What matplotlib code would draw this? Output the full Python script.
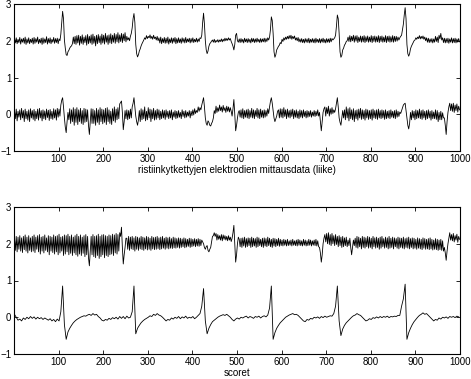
import numpy as np
import matplotlib
matplotlib.use("Agg")
import matplotlib.pyplot as plt

# ---- data: main samples at indices 1, 5, 9, ..., 997; "mid" samples at 3, 7, 11, ..., 999 ----
step = 4
mixed_upper = [
    2.06,2.08,2.04,2.09,2.05,2.07,2.10,2.05,2.08,2.04,2.07,2.09,2.06,2.10,2.04,2.07,2.08,2.05,2.11,2.06,2.08,2.04,2.09,2.06,2.07,2.05,
    2.18,2.80,2.02,1.62,1.70,1.80,1.86,
    2.10,2.12,2.14,2.15,2.12,2.16,2.10,2.14,2.17,2.12,2.16,2.18,2.12,2.15,2.17,2.13,2.18,2.15,2.20,2.14,2.16,2.19,2.15,2.20,2.17,2.22,2.16,2.20,2.18,2.22,2.12,
    2.08,2.12,2.35,2.74,1.90,1.56,1.72,
    1.86,1.97,2.08,2.14,2.12,2.16,2.12,2.15,2.10,2.12,
    2.08,2.10,2.06,2.09,2.07,2.10,2.05,2.08,2.07,2.09,2.06,2.08,2.05,2.08,2.06,2.09,2.05,2.07,2.06,2.08,2.04,2.07,2.05,2.08,
    2.15,2.75,2.00,1.65,1.85,1.95,
    2.02,2.04,2.01,2.03,2.02,2.05,2.04,2.07,2.06,2.08,2.06,
    1.92,1.75,2.15,2.00,
    2.05,2.06,2.04,2.07,2.05,2.06,2.04,2.07,2.06,2.05,2.07,2.04,2.06,2.05,2.07,2.06,2.08,
    2.10,2.65,2.20,1.55,1.75,1.85,
    1.95,2.04,2.08,2.10,2.12,2.14,2.15,2.12,2.13,2.08,2.09,2.05,2.06,2.04,2.06,2.05,2.07,2.04,2.06,2.05,2.07,2.04,2.06,2.05,2.07,2.04,2.06,2.05,2.07,2.06,
    2.05,2.15,2.70,2.20,1.55,1.75,
    1.88,1.98,2.10,2.14,2.12,2.15,2.13,2.14,2.10,2.13,2.12,2.14,2.11,2.13,2.10,2.14,2.12,2.13,2.11,2.14,2.12,2.13,2.10,2.14,2.12,2.13,2.11,2.14,2.12,2.12,2.10,
    2.08,2.15,2.45,2.90,1.90,1.58,
    1.78,1.90,2.00,2.08,2.10,2.14,2.12,2.13,2.10,2.08,2.07,2.05,2.06,2.05,2.12,2.10,2.15,2.20,2.08,2.07,2.06,2.07,2.05,2.08,2.06,2.07,2.05,2.06,
]
mixed_upper_mid = [
    1.94,1.92,1.95,1.91,1.96,1.93,1.90,1.94,1.92,1.95,1.91,1.93,1.96,1.92,1.94,1.90,1.93,1.95,1.91,1.94,1.92,1.96,1.93,1.95,1.92,2.00,
    2.50,2.60,1.80,1.60,1.74,1.84,1.92,
    1.92,1.90,1.94,1.88,1.93,1.90,1.95,1.88,1.92,1.94,1.90,1.93,1.86,1.92,1.95,1.90,1.94,1.91,1.96,1.90,1.94,1.92,1.96,1.93,1.97,1.94,1.98,1.95,2.00,1.97,2.02,
    2.00,2.20,2.60,2.50,1.65,1.62,1.78,
    1.92,2.02,2.04,2.06,2.08,2.06,2.04,2.06,2.02,2.00,
    1.94,1.92,1.95,1.93,1.94,1.91,1.95,1.93,1.96,1.92,1.94,1.95,1.93,1.96,1.94,1.95,1.97,1.94,1.96,1.95,1.97,1.96,1.98,2.06,
    2.50,2.45,1.75,1.72,1.92,1.99,
    1.96,1.95,1.97,1.96,1.98,1.97,1.99,2.00,2.01,2.02,1.98,
    1.85,1.90,2.20,1.96,
    1.95,1.96,1.94,1.97,1.95,1.96,1.94,1.97,1.95,1.96,1.97,1.95,1.96,1.97,1.96,1.98,2.02,
    2.30,2.55,1.70,1.62,1.80,1.88,
    1.92,1.98,2.02,2.04,2.05,2.06,2.04,2.06,2.02,2.00,1.97,1.96,1.95,1.94,1.96,1.95,1.94,1.96,1.95,1.94,1.96,1.95,1.94,1.96,1.95,1.94,1.96,1.95,1.97,2.02,
    2.08,2.40,2.60,1.70,1.60,1.80,
    1.92,2.00,1.98,1.97,2.00,1.96,1.99,1.95,1.98,1.96,1.97,1.95,1.98,1.96,1.97,1.95,1.98,1.96,1.97,1.95,1.98,1.96,1.97,1.95,1.98,1.96,1.97,1.96,1.98,1.99,2.02,
    2.12,2.30,2.70,2.60,1.65,1.65,
    1.85,1.95,2.02,2.04,2.06,2.05,2.06,2.04,2.00,1.96,1.95,1.96,1.94,1.96,1.98,1.95,2.05,2.02,1.95,1.94,1.95,1.93,1.96,1.94,1.95,1.94,1.96,1.97,
]
mixed_lower = [
    0.10,0.14,0.08,0.12,0.16,0.10,0.14,0.08,0.12,0.15,0.10,0.13,0.08,0.14,0.16,0.10,0.12,0.09,0.14,0.11,0.13,0.08,0.15,0.12,0.16,0.14,
    0.25,0.45,-0.10,-0.50,
    0.05,0.15,0.12,0.18,0.14,0.18,0.12,0.16,0.10,0.16,0.14,
    0.12,-0.55,0.15,
    0.14,0.10,0.16,0.12,0.18,0.14,0.12,0.16,0.18,0.12,0.08,0.15,0.20,0.14,0.18,
    0.28,0.36,-0.42,0.10,
    0.12,0.10,0.14,0.20,
    0.45,-0.05,-0.30,
    0.10,0.15,0.12,0.20,0.08,0.18,0.14,0.12,0.16,0.10,0.14,0.12,0.08,0.12,0.10,0.12,0.08,0.10,0.12,0.06,0.10,0.08,0.10,0.05,0.12,0.08,0.10,0.06,0.10,0.08,0.12,0.15,0.10,0.20,0.18,
    0.25,0.45,-0.10,-0.30,-0.22,-0.32,-0.20,
    0.10,0.22,0.18,0.25,0.20,0.24,0.18,0.22,0.20,0.18,
    -0.05,0.40,-0.45,-0.10,
    0.10,0.12,0.15,0.10,0.12,0.14,0.10,0.16,0.12,0.10,0.16,0.12,0.14,0.10,0.12,0.10,0.15,
    0.20,0.45,0.10,-0.20,-0.05,
    0.12,0.15,0.14,0.18,0.12,0.14,0.10,0.12,0.14,0.10,0.12,0.08,0.12,0.10,0.12,0.08,0.10,0.08,0.10,0.06,0.10,0.08,0.12,0.05,
    -0.45,0.05,
    0.20,0.18,0.22,0.15,0.18,0.12,
    0.15,0.45,-0.10,-0.30,0.10,
    0.12,0.20,0.15,0.18,0.12,0.15,0.10,0.12,0.14,0.16,0.12,0.10,0.14,0.12,0.10,0.12,0.14,0.10,0.12,0.14,0.10,0.12,0.10,0.12,0.08,0.10,0.12,0.08,0.10,0.12,0.08,0.06,
    0.10,0.25,0.30,-0.10,-0.40,
    0.05,0.10,0.08,0.12,0.10,0.14,0.10,0.12,0.08,0.10,0.12,0.08,0.10,0.06,0.12,0.10,0.05,0.08,0.04,
    -0.10,-0.55,0.05,
    0.30,0.28,0.30,0.25,0.28,0.22,
]
mixed_lower_mid = [
    -0.12,-0.18,-0.08,-0.15,-0.10,-0.20,-0.12,-0.16,-0.20,-0.10,-0.14,-0.18,-0.12,-0.16,-0.10,-0.18,-0.12,-0.15,-0.09,-0.17,-0.12,-0.14,-0.10,-0.16,-0.08,-0.05,
    0.38,0.20,-0.35,-0.20,
    -0.15,-0.25,-0.20,-0.30,-0.22,-0.28,-0.20,-0.25,-0.28,-0.22,-0.20,
    -0.30,-0.20,-0.25,
    -0.25,-0.30,-0.22,-0.28,-0.20,-0.26,-0.22,-0.28,-0.20,-0.25,-0.28,-0.18,-0.22,-0.15,-0.12,
    0.32,0.05,-0.20,-0.12,
    -0.15,-0.12,-0.10,0.30,
    0.20,-0.20,-0.15,
    -0.20,-0.15,-0.12,-0.18,-0.15,-0.10,-0.20,-0.12,-0.16,-0.14,-0.10,-0.15,-0.12,-0.10,-0.14,-0.08,-0.12,-0.10,-0.15,-0.08,-0.12,-0.10,-0.08,-0.12,-0.06,-0.10,-0.08,-0.05,-0.10,-0.04,-0.02,0.02,0.05,0.08,0.12,
    0.35,0.20,-0.25,-0.18,-0.30,-0.25,-0.10,
    0.02,0.05,0.08,0.10,0.06,0.10,0.05,0.08,0.06,0.08,
    0.15,0.00,-0.30,0.05,
    -0.08,-0.10,-0.12,-0.08,-0.10,-0.12,-0.08,-0.10,-0.12,-0.06,-0.10,-0.12,-0.08,-0.10,-0.08,-0.05,0.02,
    0.35,0.30,-0.10,-0.12,0.08,
    -0.10,-0.08,-0.10,-0.06,-0.12,-0.08,-0.10,-0.06,-0.12,-0.08,-0.10,-0.12,-0.08,-0.10,-0.06,-0.10,-0.08,-0.06,-0.08,-0.05,-0.06,-0.04,-0.05,-0.20,
    -0.20,0.15,
    -0.05,0.02,-0.05,0.00,0.02,0.05,
    0.30,0.20,-0.22,-0.10,-0.10,
    -0.15,-0.10,-0.18,-0.12,-0.15,-0.20,-0.12,-0.16,-0.10,-0.14,-0.12,-0.16,-0.10,-0.14,-0.12,-0.16,-0.10,-0.12,-0.14,-0.10,-0.12,-0.10,-0.14,-0.12,-0.10,-0.12,-0.08,-0.10,-0.12,-0.08,-0.06,0.02,
    0.18,0.28,0.10,-0.30,-0.25,
    -0.15,-0.10,-0.15,-0.12,-0.10,-0.12,-0.14,-0.10,-0.15,-0.12,-0.10,-0.16,-0.12,-0.12,-0.14,-0.20,-0.15,-0.15,-0.10,
    -0.30,-0.20,0.20,
    0.10,0.08,0.05,0.10,0.06,0.12,
]
score_upper = [
    2.15,2.20,2.18,2.22,2.16,2.20,2.24,2.18,2.22,2.16,2.20,2.24,2.18,2.22,2.25,2.18,2.20,2.24,2.16,2.22,2.20,2.18,2.24,2.20,2.22,2.26,2.18,2.20,2.24,2.22,2.26,2.20,2.24,2.18,2.22,2.26,2.20,2.24,2.18,2.22,2.25,2.20,
    1.40,2.20,
    2.25,2.20,2.22,2.26,2.20,2.24,2.25,2.22,2.20,2.24,2.22,2.26,2.24,2.28,2.25,
    2.30,2.45,1.45,1.90,
    2.15,2.20,2.18,2.20,2.16,2.20,2.18,2.16,2.20,2.18,2.16,2.20,2.18,2.15,2.20,2.17,2.18,2.20,2.16,2.18,2.20,2.15,2.18,2.16,2.18,2.14,2.18,2.16,2.14,2.16,2.15,2.13,2.16,2.14,2.12,2.15,2.14,2.12,2.14,2.12,2.14,2.12,2.10,
    2.00,1.85,1.95,1.78,1.90,2.20,2.30,
    2.28,2.25,2.22,2.25,2.24,2.22,2.20,2.22,2.18,
    2.15,2.50,1.50,2.00,
    2.12,2.15,2.16,2.18,2.14,2.16,2.15,2.18,2.15,2.14,2.18,2.16,2.12,2.15,2.16,2.14,2.18,2.15,2.12,2.15,2.14,2.12,2.15,2.12,2.10,2.12,2.10,2.12,2.08,2.10,2.12,2.08,2.10,2.12,2.10,2.08,2.12,2.10,2.08,2.12,2.10,2.08,2.10,2.12,2.08,
    1.90,1.50,2.00,
    2.25,2.28,2.30,2.25,2.28,2.22,2.25,2.20,2.22,2.18,2.20,2.16,2.18,
    2.10,2.15,1.70,2.10,
    2.15,2.20,2.18,2.15,2.20,2.18,2.16,2.20,2.18,2.15,2.20,2.16,2.18,2.15,2.18,2.20,2.14,2.18,2.16,2.20,2.15,2.18,2.16,2.14,2.18,2.16,2.15,2.18,2.14,2.16,2.18,2.14,2.16,2.15,2.12,2.16,2.14,2.12,2.16,2.14,2.12,2.14,2.16,2.12,2.10,2.14,2.12,2.10,2.12,2.08,
    1.90,1.55,2.00,2.30,2.25,2.28,2.22,2.26,2.20,
]
score_upper_mid = [
    1.82,1.78,1.85,1.80,1.76,1.84,1.80,1.75,1.82,1.78,1.80,1.76,1.85,1.78,1.72,1.80,1.75,1.82,1.78,1.70,1.80,1.76,1.72,1.78,1.70,1.75,1.80,1.68,1.72,1.78,1.70,1.74,1.68,1.75,1.70,1.66,1.72,1.68,1.74,1.65,1.70,1.62,
    1.80,1.70,
    1.65,1.62,1.68,1.60,1.65,1.70,1.62,1.68,1.65,1.70,1.72,1.68,1.75,1.72,1.80,
    2.20,1.90,1.70,2.15,
    1.85,1.82,1.86,1.84,1.80,1.85,1.82,1.86,1.84,1.82,1.86,1.83,1.85,1.82,1.86,1.84,1.85,1.87,1.84,1.86,1.88,1.85,1.88,1.86,1.88,1.87,1.89,1.88,1.90,1.88,1.90,1.92,1.89,1.91,1.93,1.90,1.92,1.94,1.92,1.94,1.93,1.95,2.05,
    1.90,1.92,1.82,1.85,2.05,2.22,2.20,
    2.10,2.12,2.10,2.08,2.12,2.10,2.08,2.10,2.06,
    2.30,2.00,1.70,2.18,
    1.92,1.90,1.94,1.90,1.92,1.95,1.90,1.92,1.94,1.90,1.92,1.95,1.92,1.90,1.94,1.92,1.95,1.92,1.90,1.94,1.92,1.95,1.93,1.95,1.94,1.96,1.94,1.95,1.96,1.94,1.96,1.95,1.94,1.96,1.95,1.94,1.96,1.94,1.95,1.96,1.94,1.96,1.95,1.94,1.92,
    1.75,1.70,2.15,
    2.05,2.00,1.98,1.95,2.00,1.95,1.98,1.92,1.95,1.90,1.92,1.95,1.92,
    1.95,1.90,1.90,1.95,
    1.90,1.88,1.92,1.86,1.90,1.88,1.92,1.88,1.90,1.86,1.92,1.88,1.90,1.85,1.88,1.92,1.88,1.90,1.86,1.88,1.90,1.86,1.92,1.88,1.86,1.90,1.88,1.86,1.90,1.88,1.86,1.90,1.86,1.88,1.85,1.88,1.86,1.84,1.88,1.85,1.86,1.84,1.86,1.83,1.85,1.84,1.82,1.84,1.82,1.80,
    1.75,1.80,2.15,2.10,2.08,2.05,2.10,2.04,2.12,
]
score_lower = [
    0.08,0.00,-0.08,-0.05,-0.10,-0.02,-0.06,0.00,-0.04,0.02,-0.03,0.01,-0.05,0.00,-0.04,-0.01,-0.06,-0.02,-0.05,-0.08,-0.04,-0.10,-0.06,-0.12,-0.05,-0.10,
    0.15,0.85,-0.20,-0.60,-0.40,
    -0.30,-0.22,-0.15,-0.10,-0.06,-0.03,0.00,0.02,0.04,0.03,0.06,0.08,0.05,0.10,0.06,0.08,0.02,-0.02,-0.08,-0.10,-0.06,-0.08,-0.03,-0.06,-0.01,-0.04,0.00,-0.05,0.02,-0.03,
    0.02,-0.04,0.03,-0.02,0.00,0.15,
    0.85,-0.45,-0.30,-0.22,-0.15,
    -0.10,-0.06,-0.03,0.00,0.04,0.02,0.08,0.05,0.10,0.06,0.04,0.00,-0.05,-0.10,-0.06,-0.08,-0.02,-0.05,0.00,-0.03,0.02,-0.04,0.01,-0.02,0.03,-0.03,0.00,-0.02,0.02,-0.04,0.00,0.05,0.10,
    0.30,0.78,-0.10,-0.45,-0.30,-0.20,
    -0.12,-0.08,-0.04,0.00,0.03,0.05,0.07,0.05,0.08,0.04,0.00,-0.06,-0.10,-0.05,-0.02,-0.05,0.00,-0.02,0.01,0.03,-0.02,0.02,0.00,-0.03,0.02,0.00,0.03,-0.02,0.02,0.04,0.01,0.06,
    0.25,0.85,-0.60,-0.42,-0.30,-0.22,
    -0.15,-0.10,-0.05,0.00,0.03,0.06,0.08,0.10,0.07,0.08,0.05,0.00,-0.05,-0.10,-0.12,-0.06,-0.08,-0.03,-0.05,0.00,-0.02,0.01,-0.03,0.02,-0.01,0.03,0.00,0.02,0.04,0.03,0.10,
    0.30,0.85,-0.10,-0.50,-0.32,-0.22,
    -0.15,-0.10,-0.05,0.00,0.04,0.06,0.10,0.07,0.05,0.00,-0.05,-0.10,-0.08,-0.04,-0.06,-0.01,-0.03,0.01,-0.02,0.02,-0.01,0.02,0.00,0.03,-0.01,0.02,0.01,0.03,0.02,0.05,
    0.05,0.30,0.50,0.90,-0.60,-0.42,
    -0.30,-0.20,-0.12,-0.06,0.00,0.05,0.08,0.12,0.08,0.10,0.05,0.00,-0.05,-0.10,-0.06,-0.08,-0.02,-0.05,0.00,-0.02,0.01,-0.03,0.02,0.00,0.02,-0.01,0.03,0.01,
]

xticks = [100, 200, 300, 400, 500, 600, 700, 800, 900, 1000]
yticks = [-1, 0, 1, 2, 3]
ytick_labels = ['\u22121', '0', '1', '2', '3']
xlabel_top = "ristiinkytkettyjen elektrodien mittausdata (liike)"
xlabel_bottom = "scoret"

for name, s in [("mu", mixed_upper), ("mum", mixed_upper_mid), ("ml", mixed_lower),
                ("mlm", mixed_lower_mid), ("su", score_upper), ("sum", score_upper_mid),
                ("sl", score_lower)]:
    assert len(s) == 250, (name, len(s))


def interleave(main, mid):
    x_main = 1 + step * np.arange(len(main))
    if mid is None:
        return x_main, np.asarray(main)
    x_mid = x_main + step // 2
    x = np.empty(2 * len(main))
    y = np.empty(2 * len(main))
    x[0::2], x[1::2] = x_main, x_mid
    y[0::2], y[1::2] = main, mid
    return x, y


plt.rcParams['font.family'] = ['Liberation Sans', 'DejaVu Sans']
fig = plt.figure(figsize=(4.71, 3.79), dpi=100)
W, H = 471, 379


def make_ax(top_px, bottom_px):
    return fig.add_axes([14 / W, 1 - bottom_px / H, 446 / W, (bottom_px - top_px) / H])


ax1 = make_ax(4, 151)
ax2 = make_ax(207, 354)

panels = [
    (ax1, [(mixed_upper, mixed_upper_mid), (mixed_lower, mixed_lower_mid)], xlabel_top),
    (ax2, [(score_upper, score_upper_mid), (score_lower, None)], xlabel_bottom),
]
for ax, series, lab in panels:
    for main, mid in series:
        x, y = interleave(main, mid)
        ax.plot(x, y, color='black', lw=0.6)
    ax.set_xlim(0, 1000)
    ax.set_ylim(-1, 3)
    ax.set_xticks(xticks)
    ax.set_yticks(yticks)
    ax.set_yticklabels(ytick_labels)
    ax.tick_params(direction='in', length=3, width=0.6, top=True, right=True,
                   labelsize=7, pad=2)
    for sp in ax.spines.values():
        sp.set_linewidth(0.8)
    ax.set_xlabel(lab, fontsize=7, labelpad=1)

fig.savefig("out.png", dpi=100)
